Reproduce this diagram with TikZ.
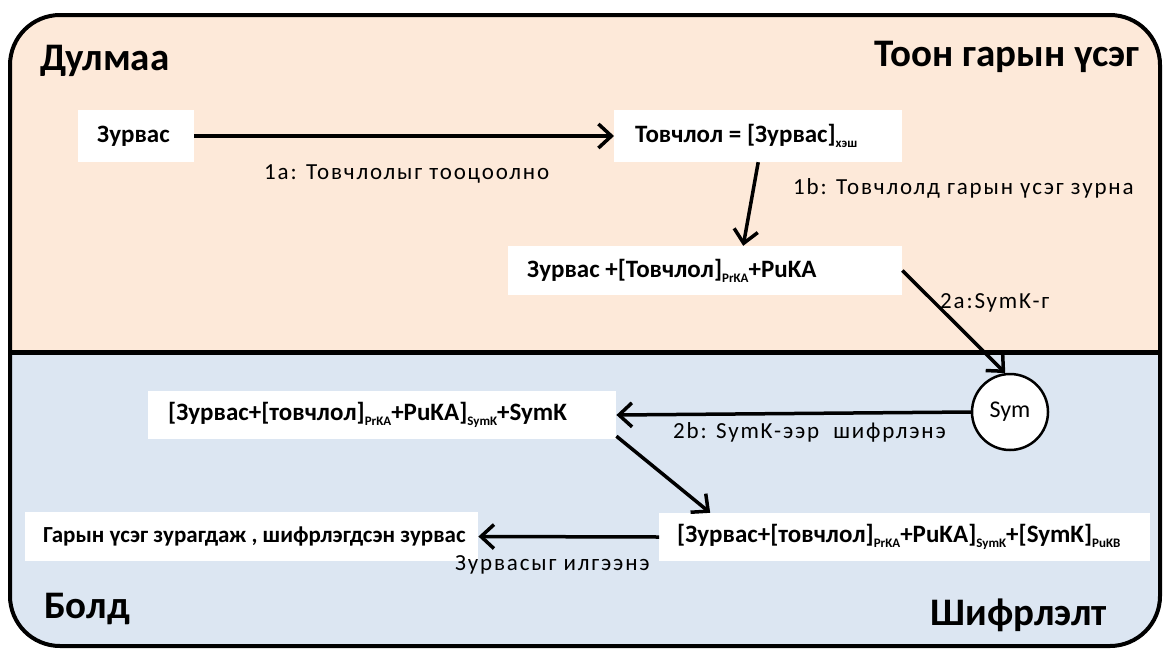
\documentclass[tikz,border=0pt]{standalone}
\usepackage{fontspec}
\setmainfont{Carlito}
\usetikzlibrary{arrows.meta,calc}
\definecolor{peach}{RGB}{253,233,217}
\definecolor{paleblue}{RGB}{220,230,242}
\newcommand{\sbs}[1]{\raisebox{-0.4ex}{\fontsize{13}{13}\selectfont #1}}
\newcommand{\boxline}[3]{\makebox[#1][l]{\hspace*{#2}#3}}
\tikzset{
  msgbox/.style={fill=white, inner xsep=0pt, inner ysep=0pt, font=\bfseries\fontsize{25}{27}\selectfont, anchor=west},
  title/.style={font=\bfseries\fontsize{39}{42}\selectfont, inner sep=0pt},
  lbl/.style={font=\fontsize{23}{25}\selectfont\addfontfeature{LetterSpace=8}, inner sep=0pt, anchor=west},
  flow/.style={line width=3.5pt, -{Straight Barb[length=13pt,width=24pt,line width=3.5pt]}}
}
\begin{document}
\begin{tikzpicture}[x=1pt,y=-1pt]
\useasboundingbox (0,0) rectangle (1164,648);
\begin{scope}
  \clip[rounded corners=50pt] (10,15) rectangle (1160,646);
  \fill[peach] (0,0) rectangle (1164,352);
  \fill[paleblue] (0,352) rectangle (1164,648);
\end{scope}
\draw[line width=4pt, rounded corners=50pt] (10,15) rectangle (1160,646);
\draw[line width=5pt] (10,352) -- (1160,352);

\node[title, anchor=west] (dul) at (40,61) {Дулмаа};
\node[title, anchor=east] (toon) at (1140,57) {Тоон гарын үсэг};
\node[title, anchor=west] (bold) at (44,609) {Болд};
\node[title, anchor=east] (shif) at (1107,615) {Шифрлэлт};

\node[msgbox, minimum height=52pt] (zur) at (78,136) {\boxline{116pt}{19pt}{Зурвас}};
\node[msgbox, minimum height=52pt] (tov) at (614,136) {\boxline{288pt}{21pt}{Товчлол =\ [Зурвас]\sbs{хэш}}};
\node[msgbox, minimum height=49pt] (m3) at (508,270.5) {\boxline{394pt}{19pt}{Зурвас +[Товчлол]\sbs{PrKA}+PuKA}};
\node[msgbox, minimum height=48pt] (m4) at (148,415) {\boxline{468pt}{20pt}{[Зурвас+[товчлол]\sbs{PrKA}+PuKA]\sbs{SymK}+SymK}};
\node[msgbox, minimum height=48pt] (m6) at (659,537) {\boxline{491pt}{18pt}{[Зурвас+[товчлол]\sbs{PrKA}+PuKA]\sbs{SymK}+[SymK]\sbs{PuKB}}};
\node[msgbox, minimum height=49pt, font=\bfseries\fontsize{23}{25}\selectfont] (m5) at (25,536.5) {\boxline{453pt}{18pt}{Гарын үсэг зурагдаж , шифрлэгдсэн\ зурвас}};

\node[draw, circle, line width=2.5pt, fill=white, minimum size=76pt, inner sep=0pt, font=\fontsize{24}{26}\selectfont] (sym) at (1010,412) {Sym};

\draw[flow] (zur.east) -- (tov.west);
\draw[flow] (tov.south) -- ([xshift=38pt]m3.north);
\draw[flow] (m3.east) -- (sym.97);
\draw[flow] (sym.west) -- (m4.east);
\draw[flow] ([yshift=3pt]m4.south east) -- ([xshift=-194.5pt]m6.north);
\draw[flow] (m6.west) -- (m5.east);

\node[lbl] (l1a) at (264,174) {1a: Товчлолыг тооцоолно};
\node[lbl] (l1b) at (793,188) {1b: Товчлолд гарын үсэг зурна};
\node[lbl] (l2a) at (940,303) {2a:SymK-г};
\node[lbl] (l2b) at (673,432) {2b: SymK-ээр\ \ шифрлэнэ};
\node[lbl] (l4) at (455,565) {Зурвасыг илгээнэ};
\end{tikzpicture}
\end{document}
